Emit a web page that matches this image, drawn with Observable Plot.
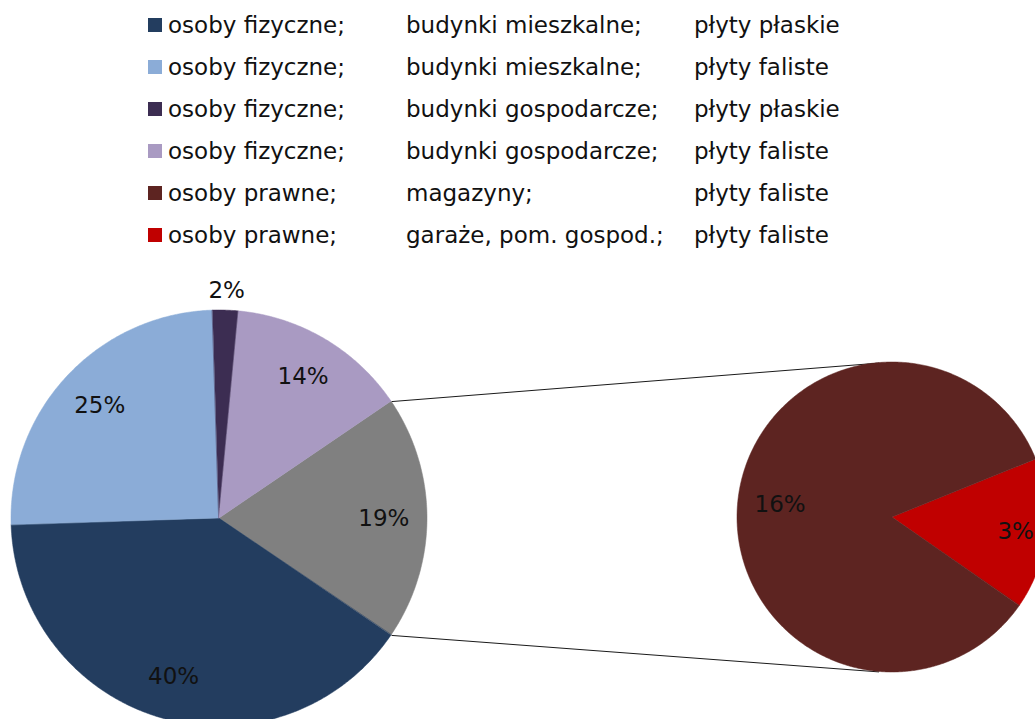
<!DOCTYPE html>
<html><head><meta charset="utf-8">
<script src="https://cdn.jsdelivr.net/npm/d3@7"></script>
<script src="https://cdn.jsdelivr.net/npm/@observablehq/plot@0.6"></script>
<style>
html,body{margin:0;padding:0;background:#fff;overflow:hidden;width:1035px;height:719px;}
#legend{position:relative;width:1035px;height:260px;font-family:"DejaVu Sans",sans-serif;font-size:23px;color:#111;}
.row{position:absolute;left:0;height:42px;line-height:42px;width:1035px;white-space:nowrap;}
.sw{position:absolute;left:148px;top:14px;width:14px;height:14px;}
.c{position:absolute;top:0;}
#chart svg{display:block;overflow:hidden;}
</style>
</head><body>
<div id="legend"></div>
<div id="chart"></div>
<script>
// ---- data ----
const kto = ["osoby fizyczne;", "osoby fizyczne;", "osoby fizyczne;", "osoby fizyczne;", "osoby prawne;", "osoby prawne;"];
const obiekt = ["budynki mieszkalne;", "budynki mieszkalne;", "budynki gospodarcze;", "budynki gospodarcze;", "magazyny;", "garaże, pom. gospod.;"];
const plyty = ["płyty płaskie", "płyty faliste", "płyty płaskie", "płyty faliste", "płyty faliste", "płyty faliste"];
const udzial = [40, 25, 2, 14, 16, 3];
const drugiWykres = [false, false, false, false, true, true];
const kolory = ["#233D5F", "#8BACD7", "#3C2D52", "#A99AC2", "#5D2421", "#C00000"];
const kolorInne = "#808080";

// ---- legend (HTML above the SVG) ----
const legend = document.getElementById("legend");
const col2 = 406, col3 = 694;
kto.forEach((k, i) => {
  const row = document.createElement("div");
  row.className = "row";
  row.style.top = (4 + 42 * i) + "px";
  row.innerHTML = `<span class="sw" style="background:${kolory[i]}"></span>` +
    `<span class="c" style="left:168px">${k}</span>` +
    `<span class="c" style="left:${col2}px">${obiekt[i]}</span>` +
    `<span class="c" style="left:${col3}px">${plyty[i]}</span>`;
  legend.appendChild(row);
});

// ---- geometry ----
const W = 1035, H = 459;
const main = {cx: 219, cy: 258, r: 208};
const sec = {cx: 892, cy: 257, r: 155};
const keys = udzial.map((_, i) => "s" + i);
const inne = d3.sum(udzial.filter((_, i) => drugiWykres[i]));

const mainItems = [{key: "inne", value: inne}].concat(
  udzial.map((v, i) => ({key: keys[i], value: v})).filter((_, i) => !drugiWykres[i]));
const secItems = udzial.map((v, i) => ({key: keys[i], value: v})).filter((_, i) => drugiWykres[i]).reverse();

const total = d3.sum(mainItems, d => d.value);
const mainStart = Math.PI / 2 - Math.PI * inne / total;
const mainArcs = d3.pie().sort(null).value(d => d.value).startAngle(mainStart).endAngle(mainStart + 2 * Math.PI)(mainItems);
const secStart = 68 * Math.PI / 180;
const secArcs = d3.pie().sort(null).value(d => d.value).startAngle(secStart).endAngle(secStart + 2 * Math.PI)(secItems);

function pt(c, r, a) { return [c.cx + r * Math.sin(a), c.cy - r * Math.cos(a)]; }
function slicePoints(arcs, c) {
  const out = [];
  for (const a of arcs) {
    const n = Math.max(2, Math.ceil((a.endAngle - a.startAngle) / (Math.PI / 360)));
    for (let j = 0; j <= n; j++) {
      const ang = a.startAngle + (a.endAngle - a.startAngle) * j / n;
      const [x, y] = pt(c, c.r, ang);
      out.push({key: a.data.key, cx: c.cx, cy: c.cy, x, y});
    }
  }
  return out;
}
const pts = slicePoints(mainArcs, main).concat(slicePoints(secArcs, sec));

const labels = [];
for (const a of mainArcs) {
  const mid = (a.startAngle + a.endAngle) / 2;
  const rr = a.data.value < 5 ? main.r + 20 : main.r * 0.79;
  const [x, y] = pt(main, rr, mid);
  labels.push({x, y, text: a.data.value + "%"});
}
for (const a of secArcs) {
  const mid = (a.startAngle + a.endAngle) / 2;
  const [x, y] = pt(sec, sec.r * (a.data.value < 5 ? 0.8 : 0.73), mid);
  labels.push({x, y, text: a.data.value + "%"});
}

const other = mainArcs[0];
const [ax, ay] = pt(main, main.r, other.startAngle);
const [bx, by] = pt(main, main.r, other.endAngle);
const [tx, ty] = pt(sec, sec.r, -5 * Math.PI / 180);
const [ux, uy] = pt(sec, sec.r, 185 * Math.PI / 180);
const links = [{x1: ax, y1: ay, x2: tx, y2: ty}, {x1: bx, y1: by, x2: ux, y2: uy}];

const chart = Plot.plot({
  width: W, height: H, margin: 0,
  style: {background: "white", overflow: "hidden"},
  x: {domain: [0, W], range: [0, W], axis: null},
  y: {domain: [0, H], range: [0, H], axis: null},
  color: {domain: keys.concat(["inne"]), range: kolory.concat([kolorInne])},
  marks: [
    Plot.link(links, {x1: "x1", y1: "y1", x2: "x2", y2: "y2", stroke: "#1a1a1a", strokeWidth: 1}),
    Plot.area(pts, {x1: "cx", y1: "cy", x2: "x", y2: "y", z: "key", fill: "key", stroke: "key", strokeWidth: 0.5}),
    Plot.text(labels, {x: "x", y: "y", text: "text", fontSize: 23, fontFamily: "DejaVu Sans", fill: "#111"})
  ]
});
document.getElementById("chart").appendChild(chart);
</script>
</body></html>
